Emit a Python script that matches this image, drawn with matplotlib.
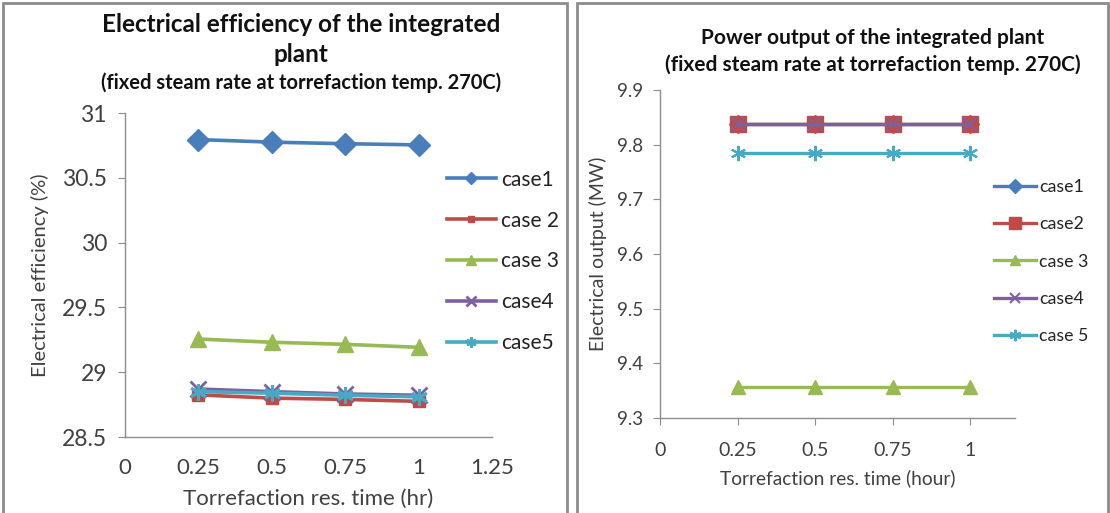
import matplotlib.pyplot as plt
from matplotlib.patches import Rectangle

plt.rcParams['font.family'] = ['Lato', 'DejaVu Sans']

# residence time (hr)
time = [0.25, 0.5, 0.75, 1.0]

# electrical efficiency (%)
eff_case1 = [30.795, 30.775, 30.763, 30.754]
eff_case2 = [28.825, 28.80, 28.79, 28.775]
eff_case3 = [29.256, 29.231, 29.215, 29.192]
eff_case4 = [28.87, 28.85, 28.832, 28.822]
eff_case5 = [28.85, 28.838, 28.822, 28.81]

# electrical output (MW)
pow_case1 = [9.837, 9.837, 9.837, 9.837]
pow_case2 = [9.837, 9.837, 9.837, 9.837]
pow_case3 = [9.357, 9.357, 9.357, 9.357]
pow_case4 = [9.837, 9.837, 9.837, 9.837]
pow_case5 = [9.785, 9.785, 9.785, 9.785]

eff_labels = ['case1', 'case 2', 'case 3', 'case4', 'case5']
pow_labels = ['case1', 'case2', 'case 3', 'case4', 'case 5']

colors = ['#4A7EBB', '#BE4B48', '#98B954', '#7D60A0', '#46AAC5']
markers = ['D', 's', '^', 'x', (6, 2, 0)]
grey = '#8C8C8C'
txt = '#404040'

fig = plt.figure(figsize=(11.1, 5.13), dpi=100)
W, H = 1110, 513

# panel frames
fig.patches.append(Rectangle((3 / W, -0.02), 564 / W, 1.0 - 3 / H + 0.02, transform=fig.transFigure,
                             fill=False, edgecolor=grey, linewidth=2))
fig.patches.append(Rectangle((577 / W, -0.02), 531 / W, 1.0 - 3 / H + 0.02, transform=fig.transFigure,
                             fill=False, edgecolor=grey, linewidth=2))


def style_axes(ax):
    for s in ['top', 'right']:
        ax.spines[s].set_visible(False)
    for s in ['left', 'bottom']:
        ax.spines[s].set_color(grey)
        ax.spines[s].set_linewidth(1.0)
    ax.tick_params(colors=grey, labelcolor=txt)


# ---- left: efficiency ----
ax1 = fig.add_axes([125 / W, 1 - 437 / H, 367 / W, 324 / H])
effs = [eff_case1, eff_case2, eff_case3, eff_case4, eff_case5]
msz1 = [11, 8, 11, 11, 12]
for i in [0, 2, 1, 3, 4]:
    ax1.plot(time, effs[i], color=colors[i], marker=markers[i], markersize=msz1[i],
             linewidth=2.6, markeredgewidth=2 if i >= 3 else 1, label=eff_labels[i])
ax1.set_xlim(0, 1.25)
ax1.set_ylim(28.5, 31)
ax1.set_xticks([0, 0.25, 0.5, 0.75, 1, 1.25])
ax1.set_xticklabels(['0', '0.25', '0.5', '0.75', '1', '1.25'])
ax1.set_yticks([28.5, 29, 29.5, 30, 30.5, 31])
ax1.set_yticklabels(['28.5', '29', '29.5', '30', '30.5', '31'])
style_axes(ax1)
ax1.tick_params(axis='x', length=0, pad=15, labelsize=16)
ax1.tick_params(axis='y', length=5, pad=8, labelsize=16.5)
ax1.set_xlabel('Torrefaction res. time (hr)', fontsize=16, color=txt, labelpad=8)
ax1.set_ylabel('Electrical efficiency (%)', fontsize=14.5, color=txt, labelpad=9)

h, l = ax1.get_legend_handles_labels()
order = [l.index(n) for n in eff_labels]
ax1.legend([h[k] for k in order], [l[k] for k in order], loc='upper left',
           bbox_to_anchor=(428 / W, 1 - 151 / H), bbox_transform=fig.transFigure,
           frameon=False, fontsize=15, labelspacing=1.0, handlelength=2.35,
           handletextpad=0.25, markerscale=0.6, labelcolor='#222222')

fig.text(301 / W, 1 - 25 / H, 'Electrical efficiency of the integrated', ha='center', va='center',
         fontsize=17.5, fontweight='bold', color='#111111')
fig.text(301 / W, 1 - 55 / H, 'plant', ha='center', va='center',
         fontsize=17.5, fontweight='bold', color='#111111')
fig.text(301 / W, 1 - 83 / H, '(fixed steam rate at torrefaction temp. 270C)', ha='center', va='center',
         fontsize=14.5, fontweight='bold', color='#111111')

# ---- right: power output ----
ax2 = fig.add_axes([660 / W, 1 - 418 / H, 355 / W, 328 / H])
pows = [pow_case1, pow_case2, pow_case3, pow_case4, pow_case5]
msz2 = [9, 11, 10, 10, 11]
for i in range(5):
    ax2.plot(time, pows[i], color=colors[i], marker=markers[i], markersize=msz2[i],
             linewidth=2.4, markeredgewidth=1.5 if i >= 3 else 1, label=pow_labels[i])
ax2.set_xlim(0, 1.145)
ax2.set_ylim(9.3, 9.9)
ax2.set_xticks([0, 0.25, 0.5, 0.75, 1])
ax2.set_xticklabels(['0', '0.25', '0.5', '0.75', '1'])
ax2.set_yticks([9.3, 9.4, 9.5, 9.6, 9.7, 9.8, 9.9])
style_axes(ax2)
ax2.tick_params(axis='x', length=5, pad=12, labelsize=14)
ax2.tick_params(axis='y', length=5, pad=7, labelsize=13.5)
ax2.set_xlabel('Torrefaction res. time (hour)', fontsize=13.8, color=txt, labelpad=8)
ax2.set_ylabel('Electrical output (MW)', fontsize=14, color=txt, labelpad=7)
ax2.legend(loc='upper left', bbox_to_anchor=(978 / W, 1 - 163 / H), bbox_transform=fig.transFigure,
           frameon=False, fontsize=12.8, labelspacing=1.2, handlelength=2.35,
           handletextpad=0.2, markerscale=0.75, labelcolor='#222222')

fig.text(873 / W, 1 - 38 / H, 'Power output of the integrated plant', ha='center', va='center',
         fontsize=15, fontweight='bold', color='#111111')
fig.text(873 / W, 1 - 65 / H, '(fixed steam rate at torrefaction temp. 270C)', ha='center', va='center',
         fontsize=15, fontweight='bold', color='#111111')

fig.savefig('out.png', dpi=100)
